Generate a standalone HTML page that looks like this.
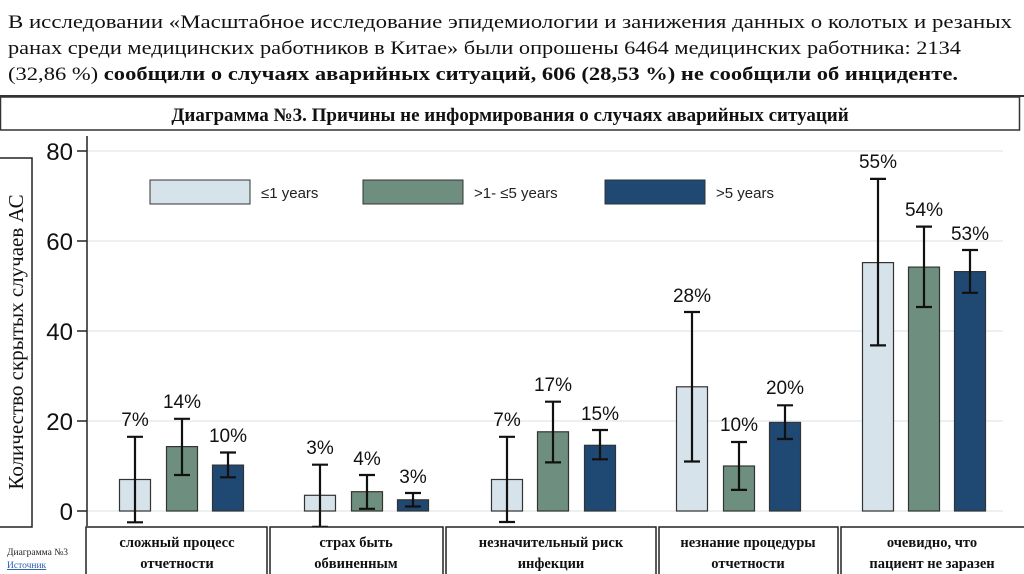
<!DOCTYPE html>
<html><head><meta charset="utf-8"><style>
html,body{margin:0;padding:0;background:#fff}
svg{display:block}
.s{font-family:"Liberation Serif",serif}
.a{font-family:"Liberation Sans",sans-serif}
</style></head><body>
<svg width="1024" height="574" viewBox="0 0 1024 574" xmlns="http://www.w3.org/2000/svg">
<rect width="1024" height="574" fill="#fff"/>
<g class="s" font-size="19" fill="#111">
<text x="8" y="28" textLength="1004" lengthAdjust="spacingAndGlyphs">В исследовании «Масштабное исследование эпидемиологии и занижения данных о колотых и резаных</text>
<text x="8" y="54" textLength="953" lengthAdjust="spacingAndGlyphs">ранах среди медицинских работников в Китае» были опрошены 6464 медицинских работника: 2134</text>
<text x="8" y="80" textLength="950" lengthAdjust="spacingAndGlyphs">(32,86 %) <tspan font-weight="bold">сообщили о случаях аварийных ситуаций, 606 (28,53 %) не сообщили об инциденте.</tspan></text>
</g>
<line x1="0" y1="96" x2="1024" y2="96" stroke="#333" stroke-width="2"/>
<rect x="0.5" y="97" width="1019" height="33" fill="#fff" stroke="#333" stroke-width="1.5"/>
<text class="s" x="510" y="121" font-size="19" font-weight="bold" text-anchor="middle" fill="#111">Диаграмма №3. Причины не информирования о случаях аварийных ситуаций</text>
<rect x="-1" y="158" width="33" height="369" fill="#fff" stroke="#222" stroke-width="1.5"/>
<text class="s" font-size="21" fill="#111" transform="translate(23,342) rotate(-90)" text-anchor="middle">Количество скрытых случаев АС</text>
<g stroke="#e6ecec" stroke-width="1.5">
<line x1="88" y1="151" x2="1003" y2="151"/><line x1="88" y1="241" x2="1003" y2="241"/>
<line x1="88" y1="331" x2="1003" y2="331"/><line x1="88" y1="421" x2="1003" y2="421"/>
<line x1="88" y1="511" x2="1003" y2="511"/>
</g>
<line x1="87" y1="136" x2="87" y2="526" stroke="#222" stroke-width="1.5"/>
<g stroke="#222" stroke-width="1.5">
<line x1="77" y1="151" x2="87" y2="151"/><line x1="77" y1="241" x2="87" y2="241"/>
<line x1="77" y1="331" x2="87" y2="331"/><line x1="77" y1="421" x2="87" y2="421"/>
<line x1="77" y1="511" x2="87" y2="511"/>
</g>
<g class="a" font-size="24" fill="#111" text-anchor="end">
<text x="73" y="160">80</text><text x="73" y="250">60</text><text x="73" y="340">40</text>
<text x="73" y="430">20</text><text x="73" y="520">0</text>
</g>
<g stroke="#333" stroke-width="1">
<rect x="150" y="180" width="100" height="24" fill="#d6e3ea"/>
<rect x="363" y="180" width="100" height="24" fill="#6e8f80"/>
<rect x="605" y="180" width="100" height="24" fill="#1f4872"/>
</g>
<g class="a" font-size="15" fill="#222">
<text x="261" y="198">≤1 years</text><text x="474" y="198">&gt;1- ≤5 years</text><text x="716" y="198">&gt;5 years</text>
</g>
<g stroke="#333" stroke-width="1.2">
<rect x="119.5" y="479.5" width="31" height="31.5" fill="#d6e3ea"/>
<rect x="166.5" y="446.6" width="31" height="64.4" fill="#6e8f80"/>
<rect x="212.5" y="465.1" width="31" height="45.9" fill="#1f4872"/>
<rect x="304.5" y="495.3" width="31" height="15.7" fill="#d6e3ea"/>
<rect x="351.5" y="491.7" width="31" height="19.3" fill="#6e8f80"/>
<rect x="397.5" y="499.8" width="31" height="11.2" fill="#1f4872"/>
<rect x="491.5" y="479.5" width="31" height="31.5" fill="#d6e3ea"/>
<rect x="537.5" y="431.8" width="31" height="79.2" fill="#6e8f80"/>
<rect x="584.5" y="445.3" width="31" height="65.7" fill="#1f4872"/>
<rect x="676.5" y="386.8" width="31" height="124.2" fill="#d6e3ea"/>
<rect x="723.5" y="466" width="31" height="45" fill="#6e8f80"/>
<rect x="769.5" y="422.4" width="31" height="88.6" fill="#1f4872"/>
<rect x="862.5" y="262.6" width="31" height="248.4" fill="#d6e3ea"/>
<rect x="908.5" y="267.1" width="31" height="243.9" fill="#6e8f80"/>
<rect x="954.5" y="271.6" width="31" height="239.4" fill="#1f4872"/>
</g>
<g stroke="#111" stroke-width="2.2" fill="none">
<path d="M135 522.3V436.8M127 522.3h16M127 436.8h16"/>
<path d="M182 475V418.8M174 475h16M174 418.8h16"/>
<path d="M228 477.3V452.5M220 477.3h16M220 452.5h16"/>
<path d="M320 526.8V464.7M312 526.8h16M312 464.7h16"/>
<path d="M367 508.8V475M359 508.8h16M359 475h16"/>
<path d="M413 506.5V493M405 506.5h16M405 493h16"/>
<path d="M507 522V436.8M499 522h16M499 436.8h16"/>
<path d="M553 462.4V401.7M545 462.4h16M545 401.7h16"/>
<path d="M600 459.3V430M592 459.3h16M592 430h16"/>
<path d="M692 461.5V312M684 461.5h16M684 312h16"/>
<path d="M739 489.9V442M731 489.9h16M731 442h16"/>
<path d="M785 439V405.3M777 439h16M777 405.3h16"/>
<path d="M878 345.4V178.9M870 345.4h16M870 178.9h16"/>
<path d="M924 307V226.6M916 307h16M916 226.6h16"/>
<path d="M970 292.8V250M962 292.8h16M962 250h16"/>
</g>
<g class="a" font-size="19" fill="#111" text-anchor="middle">
<text x="135" y="426">7%</text><text x="182" y="408">14%</text><text x="228" y="442">10%</text>
<text x="320" y="454">3%</text><text x="367" y="465">4%</text><text x="413" y="483">3%</text>
<text x="507" y="426">7%</text><text x="553" y="391">17%</text><text x="600" y="420">15%</text>
<text x="692" y="302">28%</text><text x="739" y="431">10%</text><text x="785" y="394">20%</text>
<text x="878" y="168">55%</text><text x="924" y="216">54%</text><text x="970" y="240">53%</text>
</g>
<g stroke="#222" stroke-width="1.5" fill="#fff">
<rect x="86" y="527" width="181" height="50"/>
<rect x="270" y="527" width="173" height="50"/>
<rect x="446" y="527" width="210" height="50"/>
<rect x="659" y="527" width="179" height="50"/>
<rect x="841" y="527" width="185" height="50"/>
</g>
<g class="s" font-size="14.5" font-weight="bold" fill="#111" text-anchor="middle">
<text x="177" y="547">сложный процесс</text><text x="177" y="568">отчетности</text>
<text x="356" y="547">страх быть</text><text x="356" y="568">обвиненным</text>
<text x="551" y="547">незначительный риск</text><text x="551" y="568">инфекции</text>
<text x="748" y="547">незнание процедуры</text><text x="748" y="568">отчетности</text>
<text x="932" y="547">очевидно, что</text><text x="932" y="568">пациент не заразен</text>
</g>
<text class="s" x="7" y="555" font-size="9.5" fill="#222">Диаграмма №3</text>
<text class="s" x="7" y="568" font-size="9.5" fill="#2a5db0" text-decoration="underline"> Источник</text>
</svg>
</body></html>
